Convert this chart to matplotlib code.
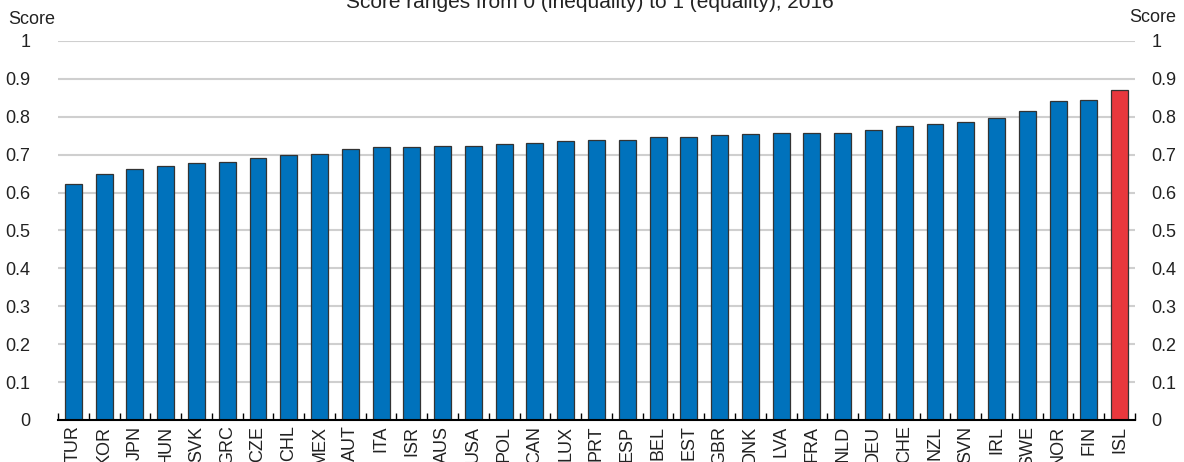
import matplotlib
matplotlib.use("Agg")
import matplotlib.pyplot as plt
import numpy as np

plt.rcParams['font.family'] = ['Liberation Sans Narrow', 'Liberation Sans', 'DejaVu Sans']

# Gender equality score by country, 2016
countries = ['TUR', 'KOR', 'JPN', 'HUN', 'SVK', 'GRC', 'CZE', 'CHL', 'MEX', 'AUT',
             'ITA', 'ISR', 'AUS', 'USA', 'POL', 'CAN', 'LUX', 'PRT', 'ESP', 'BEL',
             'EST', 'GBR', 'DNK', 'LVA', 'FRA', 'NLD', 'DEU', 'CHE', 'NZL', 'SVN',
             'IRL', 'SWE', 'NOR', 'FIN', 'ISL']
scores = [0.623, 0.649, 0.661, 0.671, 0.679, 0.680, 0.690, 0.700, 0.701, 0.715,
          0.720, 0.720, 0.722, 0.723, 0.727, 0.732, 0.735, 0.738, 0.739, 0.746,
          0.748, 0.753, 0.755, 0.756, 0.756, 0.756, 0.765, 0.776, 0.780, 0.785,
          0.797, 0.814, 0.842, 0.844, 0.872]
highlight = 'ISL'

blue = '#0072bc'
red = '#e8383d'

fig = plt.figure(figsize=(11.84, 4.62), dpi=100)
ax = fig.add_axes([58 / 1184, 42 / 462, (1135 - 58) / 1184, (420 - 41) / 462])

x = np.arange(len(countries))
colors = [red if c == highlight else blue for c in countries]
ax.bar(x, scores, width=0.55, color=colors, edgecolor='#333333', linewidth=0.9, zorder=3)

ax.set_xlim(-0.5, len(countries) - 0.5)
ax.set_ylim(0, 1)

yt = np.arange(0, 1.01, 0.1)
ylabels = ['0' if v == 0 else ('1' if v > 0.99 else f'{v:.1f}') for v in yt]
ax.set_yticks(yt)
ax.set_yticklabels(ylabels)
ax.yaxis.grid(True, color='#cfcfcf', linewidth=1.5, zorder=0)
ax.tick_params(axis='y', length=0, labelsize=13, pad=20, colors='#222222',
               labelleft=True, labelright=True)
for lab in ax.get_yticklabels():
    lab.set_horizontalalignment('right')

ax.set_xticks(x)
ax.set_xticklabels(countries, rotation=90, fontsize=13, color='#222222')
ax.tick_params(axis='x', length=0, pad=4)
ax.set_xticks(np.arange(-0.5, len(countries)), minor=True)
ax.tick_params(axis='x', which='minor', direction='in', length=5, width=1, color='black')

for s in ['top', 'left', 'right']:
    ax.spines[s].set_visible(False)
ax.spines['bottom'].set_color('black')
ax.spines['bottom'].set_linewidth(1.5)
ax.spines['bottom'].set_zorder(4)

# right-hand labels left-aligned
for lab in ax.yaxis.get_ticklabels(which='major'):
    pass
ax2 = ax.secondary_yaxis('right')
ax2.set_yticks(yt)
ax2.set_yticklabels(ylabels)
ax2.tick_params(length=0, labelsize=13, pad=12, colors='#222222')
ax2.spines['right'].set_visible(False)
ax.tick_params(axis='y', labelright=False)

fig.text(32 / 1184, 1 - 19 / 462, 'Score', ha='center', va='center', fontsize=13, color='#222222')
fig.text(1153 / 1184, 1 - 17 / 462, 'Score', ha='center', va='center', fontsize=13, color='#222222')
fig.text(590 / 1184, 1 - 2 / 462, 'Score ranges from 0 (inequality) to 1 (equality), 2016',
         ha='center', va='center', fontsize=15, color='#222222')

fig.savefig('out.png', dpi=100)
